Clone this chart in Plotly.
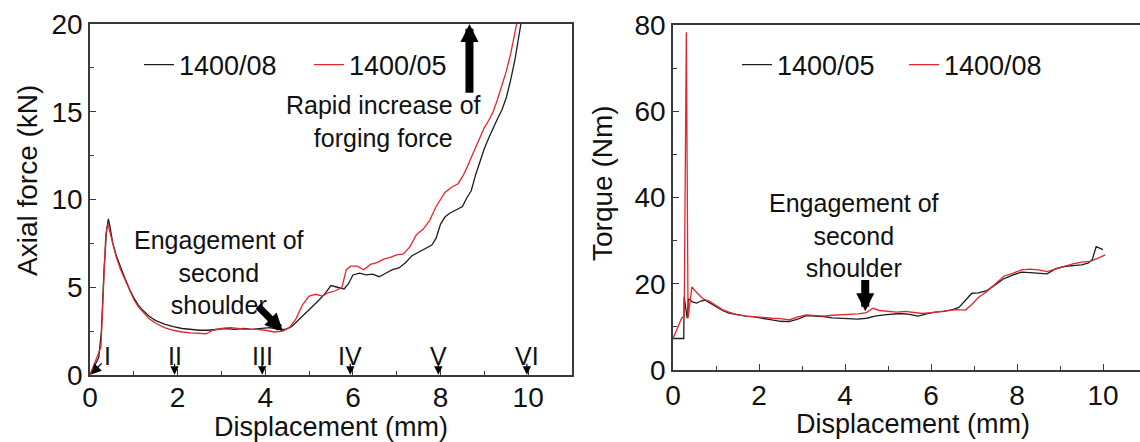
import plotly.graph_objects as go

# ---------------- data ----------------
# Left panel: axial force vs displacement
force_x_0814 = [0, 0.1, 0.2, 0.26, 0.32, 0.38, 0.42, 0.46, 0.52, 0.6,
                0.7, 0.8, 0.9, 1.0, 1.1, 1.2, 1.35, 1.5, 1.7, 1.9,
                2.1, 2.3, 2.5, 2.7, 2.9, 3.1, 3.3, 3.5, 3.7, 3.9,
                4.1, 4.3, 4.45, 4.6, 4.75, 4.9, 5.05, 5.2, 5.35, 5.5,
                5.65, 5.8, 5.9, 6.0, 6.15, 6.3, 6.45, 6.6, 6.75, 6.9,
                7.05, 7.2, 7.35, 7.5, 7.65, 7.8, 7.9, 8.0, 8.1, 8.2,
                8.35, 8.5, 8.6, 8.7, 8.8, 8.9, 9.0, 9.1, 9.2, 9.3,
                9.4, 9.5, 9.6, 9.7, 9.8, 9.9]
force_y_0814 = [0, 0.5, 1.0, 2.5, 6.0, 8.3, 8.9, 8.4, 7.5, 6.8,
                6.1, 5.5, 4.9, 4.4, 4.0, 3.7, 3.35, 3.1, 2.9, 2.75,
                2.65, 2.6, 2.55, 2.55, 2.6, 2.65, 2.6, 2.65, 2.6, 2.65,
                2.7, 2.6, 2.6, 2.75, 3.1, 3.5, 3.8, 4.2, 4.6, 5.1,
                5.0, 4.9, 5.2, 5.7, 5.8, 5.7, 5.75, 5.6, 5.8, 6.0,
                6.1, 6.4, 6.8, 7.0, 7.2, 7.4, 7.8, 8.6, 9.0, 9.2,
                9.4, 9.6, 10.1, 10.5, 11.4, 12.2, 12.9, 13.5, 14.1, 14.6,
                15.1, 15.8, 16.8, 18.0, 19.5, 21.0]

force_x_0514 = [0, 0.1, 0.2, 0.25, 0.3, 0.36, 0.41, 0.45, 0.52, 0.6,
                0.7, 0.8, 0.9, 1.0, 1.1, 1.2, 1.35, 1.5, 1.7, 1.9,
                2.1, 2.3, 2.5, 2.65, 2.8, 3.0, 3.2, 3.4, 3.6, 3.8,
                4.0, 4.2, 4.4, 4.55, 4.7, 4.85, 5.0, 5.15, 5.3, 5.45,
                5.6, 5.75, 5.85, 5.95, 6.1, 6.25, 6.4, 6.55, 6.7, 6.85,
                7.0, 7.15, 7.3, 7.45, 7.6, 7.75, 7.9, 8.0, 8.1, 8.25,
                8.4, 8.5, 8.6, 8.7, 8.8, 8.9, 9.0, 9.1, 9.2, 9.3,
                9.4, 9.5, 9.6, 9.7, 9.8]
force_y_0514 = [0, 0.6, 1.2, 1.6, 4.5, 8.0, 8.6, 8.2, 7.4, 6.7,
                6.0, 5.4, 4.8, 4.3, 3.9, 3.6, 3.2, 2.95, 2.7, 2.55,
                2.45, 2.4, 2.35, 2.35, 2.55, 2.65, 2.7, 2.65, 2.6, 2.6,
                2.55, 2.45, 2.5, 2.7, 3.2, 4.0, 4.5, 4.6, 4.5, 4.7,
                4.8, 5.0, 6.0, 6.2, 6.2, 6.0, 6.3, 6.4, 6.6, 6.7,
                6.85, 6.9, 7.3, 8.0, 8.3, 8.8, 9.6, 10.0, 10.4, 10.7,
                10.9, 11.3, 11.8, 12.4, 13.0, 13.5, 14.1, 14.5, 15.0, 15.7,
                16.5, 17.3, 18.3, 19.5, 20.8]

# Right panel: torque vs displacement
torque_x_05 = [0, 0.25, 0.26, 0.33, 0.36, 0.45, 0.55, 0.65, 0.75, 0.85,
               1.0, 1.15, 1.3, 1.5, 1.7, 1.9, 2.1, 2.3, 2.5, 2.7,
               2.9, 3.1, 3.3, 3.5, 3.7, 3.9, 4.1, 4.3, 4.5, 4.7,
               4.9, 5.1, 5.3, 5.5, 5.7, 5.9, 6.1, 6.3, 6.5, 6.65,
               6.8, 6.95, 7.1, 7.3, 7.5, 7.7, 7.9, 8.1, 8.3, 8.5,
               8.7, 8.9, 9.1, 9.3, 9.5, 9.65, 9.75, 9.84, 9.92, 10.0]
torque_y_05 = [7.3, 7.3, 17.0, 12.0, 16.5, 15.8, 15.5, 16.0, 16.2, 15.6,
               14.8, 13.8, 13.2, 12.8, 12.5, 12.3, 11.9, 11.6, 11.3, 11.2,
               11.8, 12.6, 12.5, 12.4, 12.1, 12.0, 11.9, 11.8, 12.0, 12.5,
               12.8, 13.0, 13.1, 12.9, 12.5, 13.0, 13.4, 13.6, 14.0, 14.5,
               16.2, 17.8, 17.9, 18.4, 19.8, 21.2, 22.0, 22.7, 22.6, 22.4,
               22.3, 23.5, 24.0, 24.2, 24.4, 24.8, 25.6, 28.6, 28.2, 27.9]

torque_x_08 = [0, 0.2, 0.26, 0.31, 0.35, 0.44, 0.5, 0.6,
               0.7, 0.85, 1.0, 1.15, 1.3, 1.5, 1.7, 1.9, 2.1, 2.3,
               2.5, 2.7, 2.9, 3.1, 3.3, 3.5, 3.7, 3.9, 4.1, 4.3,
               4.5, 4.65, 4.8, 5.0, 5.2, 5.4, 5.6, 5.8, 6.0, 6.2,
               6.4, 6.6, 6.8, 6.95, 7.1, 7.3, 7.5, 7.7, 7.9, 8.1,
               8.3, 8.5, 8.7, 8.9, 9.1, 9.3, 9.5, 9.7, 9.9, 10.05]
torque_y_08 = [7.3, 12.0, 12.5, 78.3, 12.0, 19.3, 18.5, 17.4,
               16.5, 15.9, 14.9, 14.0, 13.4, 12.8, 12.5, 12.4, 12.2, 12.0,
               11.9, 11.6, 12.3, 12.8, 12.6, 12.5, 12.7, 12.8, 12.9, 13.0,
               13.3, 14.3, 13.8, 13.6, 13.4, 13.6, 13.4, 13.1, 13.3, 13.5,
               13.8, 14.0, 13.9, 15.2, 16.8, 18.2, 20.0, 21.8, 22.4, 23.2,
               23.4, 23.2, 22.8, 23.4, 24.0, 24.6, 25.0, 25.2, 26.0, 26.7]

stage_labels = ["I", "II", "III", "IV", "V", "VI"]
stage_label_x = [0.41, 1.93, 3.93, 5.94, 7.95, 9.97]
stage_arrow_x = [0.0, 1.93, 3.93, 5.94, 7.95, 9.97]

# ---------------- figure ----------------
FONT = "Liberation Sans, Arial, sans-serif"
BLACK = "#1e1e1e"
RED = "#e3262d"
AXC = "#3a3a3a"

fig = go.Figure()
fig.add_trace(go.Scatter(x=force_x_0814, y=force_y_0814, mode="lines", name="1400/08",
                         line=dict(color=BLACK, width=1.3), xaxis="x", yaxis="y", legend="legend"))
fig.add_trace(go.Scatter(x=force_x_0514, y=force_y_0514, mode="lines", name="1400/05",
                         line=dict(color=RED, width=1.3), xaxis="x", yaxis="y", legend="legend"))
fig.add_trace(go.Scatter(x=torque_x_05, y=torque_y_05, mode="lines", name="1400/05",
                         line=dict(color=BLACK, width=1.3), xaxis="x2", yaxis="y2", legend="legend2"))
fig.add_trace(go.Scatter(x=torque_x_08, y=torque_y_08, mode="lines", name="1400/08",
                         line=dict(color=RED, width=1.3), xaxis="x2", yaxis="y2", legend="legend2"))

W, H = 1140, 442
axis_common = dict(showline=True, linecolor=AXC, linewidth=1.6, ticks="inside", ticklen=6,
                   tickwidth=1.3, tickcolor=AXC, showgrid=False, zeroline=False, automargin=False,
                   tickfont=dict(family=FONT, size=28, color="#111"))
TITLE_FONT = dict(family=FONT, size=27, color="#111")

fig.update_layout(
    width=W, height=H, autosize=False,
    margin=dict(l=0, r=0, t=0, b=0, autoexpand=False),
    paper_bgcolor="white", plot_bgcolor="white",
    font=dict(family=FONT, color="#111"),
    xaxis=dict(axis_common, domain=[90 / W, 572 / W], range=[0, 11], tickvals=[0, 2, 4, 6, 8, 10],
               minor=dict(tickvals=[1, 3, 5, 7, 9], ticks="inside", ticklen=4, tickcolor=AXC),
               mirror=True, anchor="y", ticklabelstandoff=-3),
    yaxis=dict(axis_common, domain=[1 - 375 / H, 1 - 24 / H], range=[0, 20], tickvals=[0, 5, 10, 15, 20],
               minor=dict(tickvals=[2.5, 7.5, 12.5, 17.5], ticks="inside", ticklen=4, tickcolor=AXC),
               mirror=True, anchor="x"),
    xaxis2=dict(axis_common, domain=[673 / W, 1.0], range=[0, 10.86], tickvals=[0, 2, 4, 6, 8, 10],
                minor=dict(tickvals=[1, 3, 5, 7, 9], ticks="inside", ticklen=4, tickcolor=AXC),
                mirror=True, anchor="y2"),
    yaxis2=dict(axis_common, domain=[1 - 370 / H, 1 - 25 / H], range=[0, 80], tickvals=[0, 20, 40, 60, 80],
                minor=dict(tickvals=[10, 30, 50, 70], ticks="inside", ticklen=4, tickcolor=AXC),
                mirror=False, anchor="x2"),
    legend=dict(orientation="h", x=139 / W, y=1 - 65 / H, xanchor="left", yanchor="middle",
                font=dict(family=FONT, size=27, color="#111"), bgcolor="rgba(0,0,0,0)",
                entrywidth=125, entrywidthmode="pixels", tracegroupgap=0),
    legend2=dict(orientation="h", x=737 / W, y=1 - 65 / H, xanchor="left", yanchor="middle",
                 font=dict(family=FONT, size=27, color="#111"), bgcolor="rgba(0,0,0,0)",
                 entrywidth=122, entrywidthmode="pixels", tracegroupgap=0),
    showlegend=True,
)

ann = []
# Axis titles (placed as paper annotations for exact positioning)
ann.append(dict(xref="paper", yref="paper", x=331 / W, y=1 - 427 / H, text="Displacement (mm)",
                showarrow=False, font=TITLE_FONT, xanchor="center", yanchor="middle"))
ann.append(dict(xref="paper", yref="paper", x=913 / W, y=1 - 424 / H, text="Displacement (mm)",
                showarrow=False, font=TITLE_FONT, xanchor="center", yanchor="middle"))
ann.append(dict(xref="paper", yref="paper", x=27 / W, y=1 - 181 / H, text="Axial force (kN)",
                showarrow=False, font=dict(family=FONT, size=28, color="#111"), textangle=-90,
                xanchor="center", yanchor="middle"))
ann.append(dict(xref="paper", yref="paper", x=602 / W, y=1 - 183 / H, text="Torque (Nm)",
                showarrow=False, font=dict(family=FONT, size=28, color="#111"), textangle=-90,
                xanchor="center", yanchor="middle"))

# Left panel text annotations
ann.append(dict(xref="x", yref="y", x=6.7, y=14.45, text="Rapid increase of<br>forging force",
                showarrow=False, font=dict(family=FONT, size=25, color="#111"), align="center"))
ann.append(dict(xref="x", yref="y", x=8.66, y=20, ax=8.66, ay=16.0, axref="x", ayref="y",
                text="", showarrow=True, arrowhead=2, arrowsize=0.45, arrowwidth=8, arrowcolor="black"))
ann.append(dict(xref="x", yref="y", x=2.95, y=5.85, text="Engagement of<br>second<br>shoulder",
                showarrow=False, font=dict(family=FONT, size=25, color="#111"), align="center"))
ann.append(dict(xref="x", yref="y", x=4.4, y=2.5, ax=3.8, ay=4.0, axref="x", ayref="y",
                text="", showarrow=True, arrowhead=2, arrowsize=0.5, arrowwidth=7, arrowcolor="black"))
# Stage markers I..VI
for lab, lx, axx in zip(stage_labels, stage_label_x, stage_arrow_x):
    ann.append(dict(xref="x", yref="y", x=lx, y=1.1, text=lab, showarrow=False,
                    font=dict(family=FONT, size=25, color="#111")))
    if lab == "I":
        ann.append(dict(xref="x", yref="y", x=0.02, y=0.03, ax=0.3, ay=0.75, axref="x", ayref="y",
                        text="", showarrow=True, arrowhead=2, arrowsize=1.6, arrowwidth=1.3,
                        arrowcolor="black"))
    else:
        ann.append(dict(xref="x", yref="y", x=axx, y=0.02, ax=axx, ay=0.72, axref="x", ayref="y",
                        text="", showarrow=True, arrowhead=2, arrowsize=1.4, arrowwidth=1.2,
                        arrowcolor="black"))
# Right panel
ann.append(dict(xref="x2", yref="y2", x=4.22, y=31.2, text="Engagement of<br>second<br>shoulder",
                showarrow=False, font=dict(family=FONT, size=25, color="#111"), align="center"))
ann.append(dict(xref="x2", yref="y2", x=4.47, y=13.6, ax=4.47, ay=21.2, axref="x2", ayref="y2",
                text="", showarrow=True, arrowhead=2, arrowsize=0.45, arrowwidth=8, arrowcolor="black"))

fig.update_layout(annotations=ann)
fig.write_html("out.html", config={"displayModeBar": False},
               post_script="document.body.style.margin='0px';document.body.style.overflow='hidden';")
